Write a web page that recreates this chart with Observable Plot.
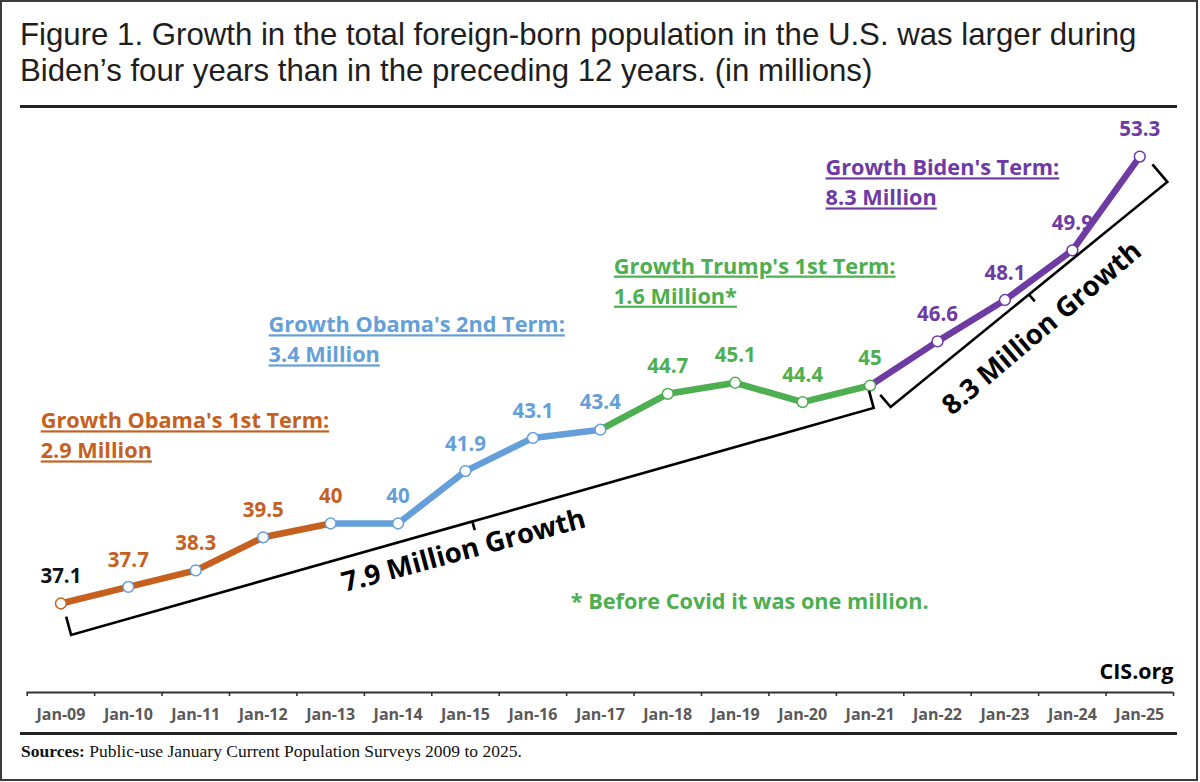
<!DOCTYPE html>
<html>
<head>
<meta charset="utf-8">
<script src="https://cdn.jsdelivr.net/npm/d3@7"></script>
<script src="https://cdn.jsdelivr.net/npm/@observablehq/plot@0.6"></script>
<style>
  html, body { margin: 0; padding: 0; background: #fff; }
  #page { position: relative; width: 1200px; height: 782px; overflow: hidden; }
  #frame { position: absolute; left: 0; top: 0; width: 1198px; height: 781px; border: 2.5px solid #3c3c3c; box-sizing: border-box; }
  #title { position: absolute; left: 20px; top: 17px; font-family: "Liberation Sans", Arial, sans-serif; font-size: 31.2px; line-height: 35.5px; color: #1e1e1e; white-space: nowrap; }
  .rule { position: absolute; left: 20px; width: 1157px; height: 2.5px; background: #222; }
  #chart { position: absolute; left: 0; top: 108px; }
  #sources { position: absolute; left: 21px; top: 741px; font-family: "Liberation Serif", "DejaVu Serif", serif; font-size: 17.5px; line-height: 20px; color: #111; white-space: nowrap; }
</style>
</head>
<body>
<div id="page">
  <div id="frame"></div>
  <div id="title">Figure 1. Growth in the total foreign-born population in the U.S. was larger during<br>Biden’s four years than in the preceding 12 years. (in millions)</div>
  <div class="rule" style="top:105px"></div>
  <div id="chart"></div>
  <div class="rule" style="top:732px"></div>
  <div id="sources"><b>Sources:</b> Public-use January Current Population Surveys 2009 to 2025.</div>
</div>
<script>
// ---- data ----
const tickLabels = ["Jan-09","Jan-10","Jan-11","Jan-12","Jan-13","Jan-14","Jan-15","Jan-16","Jan-17","Jan-18","Jan-19","Jan-20","Jan-21","Jan-22","Jan-23","Jan-24","Jan-25"];
const population = [37.1, 37.7, 38.3, 39.5, 40, 40, 41.9, 43.1, 43.4, 44.7, 45.1, 44.4, 45, 46.6, 48.1, 49.9, 53.3];
const termNames = ["Obama's 1st Term", "Obama's 2nd Term", "Trump's 1st Term", "Biden's Term"];
const termStart = [0, 4, 8, 12];
const termEnd = [4, 8, 12, 16];
const termColors = ["#C5601F", "#649FD9", "#4DAF4F", "#6E3AA3"];
const footnote = "* Before Covid it was one million.";
const credit = "CIS.org";

// ---- derived tables ----
const idx = d3.range(tickLabels.length);
const points = idx.map(i => ({i, v: population[i]}));
const segments = termNames.flatMap((t, k) =>
  d3.range(termStart[k], termEnd[k] + 1).map(i => ({term: t, i, v: population[i]})));
const termOf = i => (i === 0 ? -1 : Math.ceil(i / 4) - 1);
const labelColor = i => (i === 0 ? "#111" : termColors[termOf(i)]);
const markerColor = i => (i === 0 ? termColors[0] : i <= 4 ? termColors[1] : termColors[termOf(i)]);
const growth = k => (population[termEnd[k]] - population[termStart[k]]).toFixed(1);

// annotation anchors (in data units: index, value)
const termTitleAnchor = [[-0.30, 43.70], [3.08, 47.18], [8.20, 49.31], [11.34, 52.87]];
const titleLines = termNames.flatMap((t, k) => [
  {k, x: termTitleAnchor[k][0], y: termTitleAnchor[k][1], text: `Growth ${t}:`},
  {k, x: termTitleAnchor[k][0], y: termTitleAnchor[k][1] - 1.09, text: `${growth(k)} Million${k === 2 ? "*" : ""}`}
]);

const braces = [
  {from: 0, to: 12, gap0: 33.6, gap1: 23.2, shift0: 2, shift1: -2, leg0: 19, leg1: 18, textGap: 35, textShift: -16},
  {from: 12, to: 16, gap0: 30.4, gap1: 37.9, shift0: 1.8, shift1: 4.6, leg0: 16, leg1: 23, textGap: 43, textShift: -12}
];

const FONT = "'Open Sans', Lato, sans-serif";

function braceMark(b) {
  return (index, scales) => {
    const {x, y} = scales;
    const x0 = x(b.from), y0 = y(population[b.from]);
    const x1 = x(b.to), y1 = y(population[b.to]);
    const L = Math.hypot(x1 - x0, y1 - y0);
    const ux = (x1 - x0) / L, uy = (y1 - y0) / L;
    const nx = -uy, ny = ux;
    const A = [x0 + nx * b.gap0 + ux * b.shift0, y0 + ny * b.gap0 + uy * b.shift0];
    const B = [x1 + nx * b.gap1 + ux * b.shift1, y1 + ny * b.gap1 + uy * b.shift1];
    const LA = [A[0] - nx * b.leg0, A[1] - ny * b.leg0];
    const LB = [B[0] - nx * b.leg1, B[1] - ny * b.leg1];
    const M = [(A[0] + B[0]) / 2, (A[1] + B[1]) / 2];
    const T = [M[0] + nx * 9, M[1] + ny * 9];
    const g = d3.create("svg:g");
    g.append("path")
      .attr("d", `M${LA}L${A}L${M}L${T}M${M}L${B}L${LB}`)
      .attr("fill", "none").attr("stroke", "#000").attr("stroke-width", 2.6)
      .attr("stroke-linejoin", "miter");
    const P = [M[0] + nx * b.textGap + ux * b.textShift, M[1] + ny * b.textGap + uy * b.textShift];
    const ang = Math.atan2(uy, ux) * 180 / Math.PI;
    const amount = (population[b.to] - population[b.from]).toFixed(1);
    g.append("text")
      .attr("transform", `translate(${P}) rotate(${ang})`)
      .attr("text-anchor", "middle")
      .attr("font-family", FONT)
      .attr("font-weight", "bold")
      .attr("font-size", 27.5)
      .attr("fill", "#000")
      .text(`${amount} Million Growth`);
    return g.node();
  };
}

const yLo = 33.874, yHi = 54.316;

const chart = Plot.plot({
  width: 1200,
  height: 626,
  marginLeft: 26.7,
  marginRight: 27,
  marginTop: 20,
  marginBottom: 42,
  x: {type: "linear", domain: [-0.5, 16.5], axis: null},
  y: {domain: [yLo, yHi], axis: null},
  style: {fontFamily: FONT, background: "transparent", overflow: "visible"},
  marks: [
    Plot.ruleY([yLo], {stroke: "#333", strokeWidth: 2}),
    Plot.axisX(d3.range(-0.5, 17, 1), {tickSize: 4, tickFormat: () => "", stroke: "#333", strokeWidth: 1.6, label: null}),
    Plot.text(idx, {x: d => d, y: yLo, text: i => tickLabels[i], dy: 22, fontSize: 16, fontWeight: "bold", fill: "#595959"}),
    Plot.line(segments, {x: "i", y: "v", z: "term", stroke: d => termColors[termNames.indexOf(d.term)], strokeWidth: 6.5, strokeLinejoin: "round", strokeLinecap: "butt"}),
    Plot.dot(points, {x: "i", y: "v", r: 5.4, fill: "white", stroke: d => markerColor(d.i), strokeWidth: 1.5}),
    Plot.text(points, {x: "i", y: "v", text: d => String(d.v), dy: -27, fontSize: 20.5, fontWeight: "bold", fill: d => labelColor(d.i)}),
    Plot.text(titleLines, {x: "x", y: "y", text: "text", textAnchor: "start", fontSize: 21.7, fontWeight: "bold", fill: d => termColors[d.k]}),
    Plot.text([footnote], {x: 7.56, y: 37.14, text: d => d, textAnchor: "start", fontSize: 21.7, fontWeight: "bold", fill: termColors[2]}),
    Plot.text([credit], {x: 16.5, y: 34.6, text: d => d, textAnchor: "end", fontSize: 21.5, fontWeight: "bold", fill: "#000"}),
    ...braces.map(braceMark)
  ]
});
// underline the term annotations
const termTexts = new Set(titleLines.map(d => d.text));
chart.querySelectorAll("text").forEach(t => {
  if (termTexts.has(t.textContent)) t.setAttribute("text-decoration", "underline");
});
document.getElementById("chart").appendChild(chart);
</script>
</body>
</html>
